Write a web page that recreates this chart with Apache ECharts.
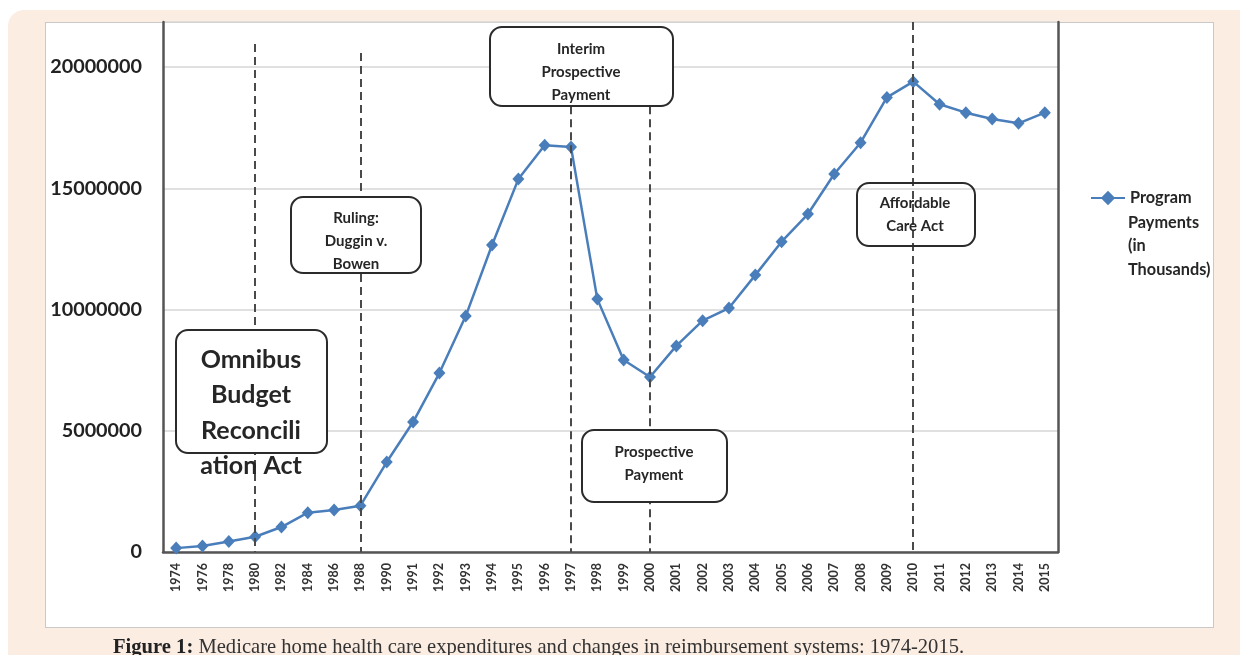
<!DOCTYPE html>
<html>
<head>
<meta charset="utf-8">
<script src="https://cdn.jsdelivr.net/npm/echarts@6/dist/echarts.min.js"></script>
<style>
  html, body { margin: 0; padding: 0; background: #ffffff; }
  #bg { position: absolute; left: 8px; top: 10px; width: 1232px; height: 645px; background: #fcede3; border-radius: 16px 0 0 0; }
  #panel { position: absolute; left: 45px; top: 22px; width: 1167px; height: 604px; background: #ffffff; border: 1px solid #c9c9c9; }
  #chart { position: absolute; left: 0; top: 0; width: 1240px; height: 655px; }
</style>
</head>
<body>
<div id="bg"></div>
<div id="panel"></div>
<div id="chart"></div>
<script>
// ---- data ----
const years = ['1974','1976','1978','1980','1982','1984','1986','1988','1990','1991','1992','1993','1994','1995','1996','1997','1998','1999','2000','2001','2002','2003','2004','2005','2006','2007','2008','2009','2010','2011','2012','2013','2014','2015'];
const payments = [160000,250000,430000,630000,1030000,1620000,1730000,1910000,3710000,5360000,7380000,9730000,12660000,15380000,16780000,16700000,10430000,7920000,7220000,8500000,9540000,10060000,11420000,12800000,13940000,15590000,16880000,18750000,19400000,18470000,18120000,17860000,17680000,18120000];
const seriesName = 'Program Payments (in Thousands)';
const legendLines = ['Program', 'Payments', '(in', 'Thousands)'];
// policy change markers: year, top of dashed line (value units)
const eventYears = ['1980', '1988', '1997', '2000', '2010'];
const eventTops = [20950000, 20580000, 18390000, 18390000, 21860000];
const yTicks = [0, 5000000, 10000000, 15000000, 20000000];
const captionBold = 'Figure 1:';
const captionText = ' Medicare home health care expenditures and changes in reimbursement systems: 1974-2015.';
const boxTexts = {
  omnibus: 'Omnibus\nBudget\nReconcili\nation Act',
  ruling: 'Ruling:\nDuggin v.\nBowen',
  interim: 'Interim\nProspective\nPayment',
  prospective: 'Prospective\nPayment',
  aca: 'Affordable\nCare Act'
};

const FONT = 'Lato, "Open Sans", sans-serif';
const chart = echarts.init(document.getElementById('chart'), null, { renderer: 'canvas' });

const markData = eventYears.map((y, i) => [
  { coord: [y, eventTops[i]] },
  { coord: [y, 0] }
]);

function box(x, y, w, h, fill) {
  return { type: 'rect', z: 100, shape: { x: x, y: y, width: w, height: h, r: 12 },
    style: { fill: fill, stroke: '#2b2b2b', lineWidth: 2 } };
}
function label(text, cx, cy, size, lh, align) {
  return { type: 'text', z: 101, x: cx, y: cy,
    style: { text: text, font: 'bold ' + size + 'px ' + FONT, fill: '#262626', align: align || 'center', verticalAlign: 'middle', lineHeight: lh } };
}

const option = {
  backgroundColor: 'transparent',
  animation: false,
  title: {
    left: 108, top: 632,
    text: '{b|' + captionBold + '}{n|' + captionText + '}',
    textStyle: {
      fontWeight: 'normal',
      rich: {
        b: { fontFamily: '"Liberation Serif", serif', fontWeight: 'bold', fontSize: 20.6, color: '#222' },
        n: { fontFamily: '"Liberation Serif", serif', fontWeight: 'normal', fontSize: 20.6, color: '#333' }
      }
    }
  },
  legend: {
    left: 1090, top: 190,
    padding: 0,
    orient: 'vertical',
    itemWidth: 34, itemHeight: 18,
    itemGap: 0,
    data: [seriesName],
    formatter: () => legendLines[0],
    textStyle: { fontFamily: FONT, fontWeight: 'bold', fontSize: 16.3, color: '#262626' }
  },
  grid: { left: 163, right: 182, top: 22, bottom: 103, containLabel: false },
  xAxis: {
    type: 'category',
    data: years,
    boundaryGap: true,
    axisLine: { lineStyle: { color: '#555', width: 2.5 } },
    axisTick: { show: false },
    axisLabel: { rotate: 90, interval: 0, margin: 11, fontFamily: FONT, fontWeight: 'bold', fontSize: 12.5, color: '#333' },
    splitLine: { show: false }
  },
  yAxis: [{
    type: 'value',
    min: 0, max: 21860000, interval: 5000000,
    axisLine: { show: true, lineStyle: { color: '#555', width: 2.5 } },
    axisTick: { show: false },
    axisLabel: { showMaxLabel: false, margin: 21, fontFamily: FONT, fontWeight: 'bold', fontSize: 19.8, color: '#222',
      formatter: v => (yTicks.indexOf(v) >= 0 ? String(v) : '') },
    splitLine: { lineStyle: { color: '#d6d6d6', width: 1.5 } }
  }, {
    type: 'value', position: 'right',
    min: 0, max: 21860000, interval: 5000000,
    axisLine: { show: true, lineStyle: { color: '#555', width: 2.5 } },
    axisTick: { show: false },
    axisLabel: { show: false },
    splitLine: { show: false }
  }],
  series: [{
    name: seriesName,
    type: 'line',
    data: payments,
    symbol: 'diamond',
    symbolSize: [12, 13],
    itemStyle: { color: '#4a7ebb' },
    lineStyle: { color: '#4a7ebb', width: 2.5 },
    markLine: {
      silent: true,
      symbol: ['none', 'none'],
      label: { show: false },
      lineStyle: { type: [8, 5], color: '#4a4a4a', width: 2 },
      data: markData
    }
  }],
  graphic: [
    box(176, 330, 151, 123, '#ffffff'),
    label(boxTexts.omnibus, 251, 413, 25, 35.5),
    box(291, 197, 130, 76, '#ffffff'),
    label(boxTexts.ruling, 356, 241, 15, 23),
    box(490, 27, 183, 79, '#ffffff'),
    label(boxTexts.interim, 581, 72, 15, 23),
    box(582, 430, 145, 72, '#ffffff'),
    label(boxTexts.prospective, 654, 463.5, 15, 23),
    box(857, 183, 118, 63, null),
    label(boxTexts.aca, 915, 214.5, 15, 23),
    label(legendLines.slice(1).join('\n'), 1128, 246, 16.3, 23.5, 'left')
  ]
};
chart.setOption(option);
</script>
</body>
</html>
